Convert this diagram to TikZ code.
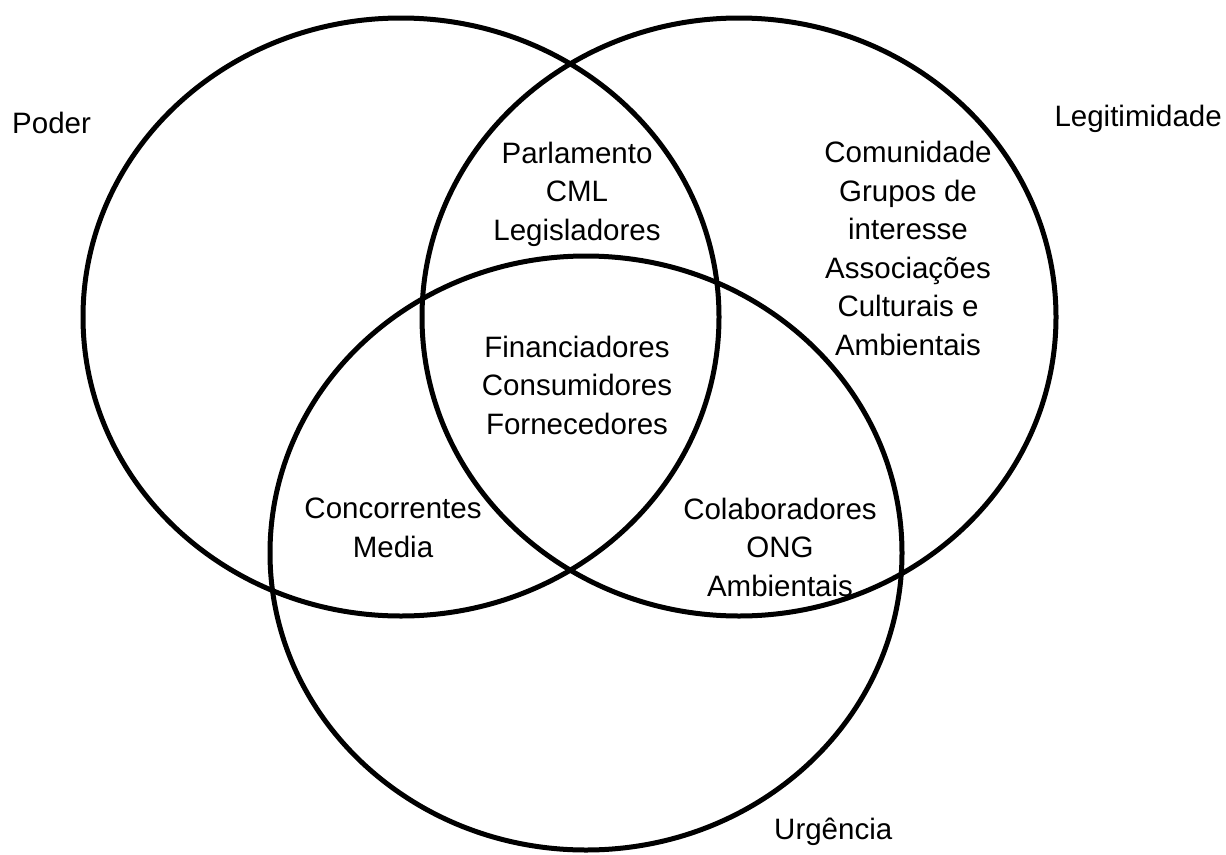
\documentclass[tikz,border=0pt]{standalone}
\usepackage{fontspec}
\setmainfont{Liberation Sans}
\begin{document}
\begin{tikzpicture}[x=1pt,y=-1pt,
  set/.style={line width=5pt},
  lbl/.style={align=center, inner sep=0pt, anchor=base, font=\fontsize{29.5}{38.5}\selectfont}]
\useasboundingbox (0,0) rectangle (1226,854);
\draw[set](401,317) ellipse[x radius=318pt, y radius=299pt];
\draw[set](739,317) ellipse[x radius=317pt, y radius=299pt];
\draw[set](586,553) ellipse[x radius=316pt, y radius=297pt];
\node[lbl, anchor=base west] (poder) at (12,133) {Poder};
\node[lbl, anchor=base east] (legit) at (1222,126) {Legitimidade};
\node[lbl, anchor=base west] (urg) at (774,839) {Urgência};
\node[lbl] (parl) at (577,240) {Parlamento\\CML\\Legisladores};
\node[lbl] (comun) at (908,355) {Comunidade\\Grupos de\\interesse\\Associações\\Culturais e\\Ambientais};
\node[lbl] (financ) at (577,434) {Financiadores\\Consumidores\\Fornecedores};
\node[lbl] (concor) at (393,557) {Concorrentes\\Media};
\node[lbl] (colab) at (780,596) {Colaboradores\\ONG\\Ambientais};
\end{tikzpicture}
\end{document}
